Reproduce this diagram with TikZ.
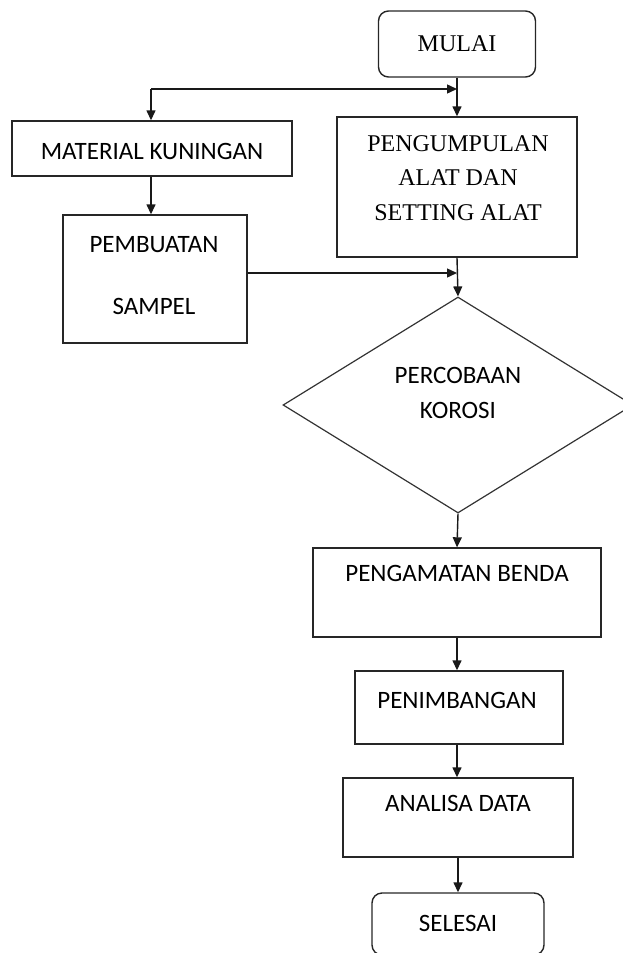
\documentclass[tikz,border=0pt]{standalone}
\usepackage{fontspec}
\setmainfont{Carlito}
\newfontfamily\timesfont{Liberation Serif}
\usetikzlibrary{shapes.geometric,arrows.meta}
\begin{document}
\begin{tikzpicture}[x=1pt, y=-1pt, every node/.append style={font=\fontsize{25}{30}\selectfont}]
    \tikzstyle{box}=[draw=black!85,line width=1.4pt,shape=rectangle,inner sep=0pt];
    \tikzstyle{term}=[box,rounded corners=10pt];
    \tikzstyle{txt}=[inner sep=0pt,align=center];
    \tikzstyle{serif}=[txt,font=\timesfont\fontsize{24}{34.5}\selectfont];
    \tikzstyle{arr}=[draw=black!90,line width=1.4pt,-{Triangle[length=10pt,width=9pt]}];
    \useasboundingbox (0,0) rectangle (622,953);
    %start
    \node[term,minimum width=157pt,minimum height=66pt] (mulai) at (457,44) {};
    \node[serif] (mulaitxt) at (457,44) {MULAI};
    %left branch
    \node[box,minimum width=280pt,minimum height=55pt] (material) at (152,148.5) {};
    \node[txt] (materialtxt) at (152,151) {MATERIAL KUNINGAN};
    \node[box,minimum width=184pt,minimum height=128pt] (pembuatan) at (155,279) {};
    \node[txt,font=\fontsize{25}{62}\selectfont] (pembuatantxt) at (154,276) {PEMBUATAN\\SAMPEL};
    %right branch
    \node[box,minimum width=240pt,minimum height=140pt] (pengumpulan) at (457,187) {};
    \node[serif] (pengumpulantxt) at (458,178) {PENGUMPULAN\\ALAT DAN\\SETTING ALAT};
    %test
    \node[draw=black!80,line width=1.2pt,shape=diamond,inner sep=0pt,minimum width=350pt,minimum height=216pt] (percobaan) at (458,405) {};
    \node[txt,font=\fontsize{25}{35}\selectfont] (percobaantxt) at (458,392.5) {PERCOBAAN\\KOROSI};
    %main column
    \node[box,minimum width=288pt,minimum height=89pt] (pengamatan) at (457,592.5) {};
    \node[txt] (pengamatantxt) at (457,573) {PENGAMATAN BENDA};
    \node[box,minimum width=208pt,minimum height=73pt] (penimbangan) at (459,707.5) {};
    \node[txt] (penimbangantxt) at (457,700) {PENIMBANGAN};
    \node[box,minimum width=230pt,minimum height=79pt] (analisa) at (458,817.5) {};
    \node[txt] (analisatxt) at (458,803) {ANALISA DATA};
    \node[term,minimum width=172pt,minimum height=62pt] (selesai) at (458,924) {};
    \node[txt] (selesaitxt) at (458,923) {SELESAI};
    %connectors
    \coordinate (split) at (457,89);
    \coordinate (corner) at (151,89);
    \coordinate (join) at (457,273);
    \draw[arr] (mulai.south) -- (pengumpulan.north);
    \draw[arr] (corner) -- (split);
    \draw[arr] (corner) -- (material.north -| corner);
    \draw[arr] (material.south -| corner) -- (pembuatan.north -| corner);
    \draw[arr] (pembuatan.east |- join) -- (join);
    \draw[arr] (pengumpulan.south) -- (percobaan.north);
    \draw[arr] (percobaan.south) -- (pengamatan.north);
    \draw[arr] (pengamatan.south) -- (penimbangan.north -| pengamatan.south);
    \draw[arr] (penimbangan.south -| pengamatan.south) -- (analisa.north -| pengamatan.south);
    \draw[arr] (analisa.south) -- (selesai.north);
\end{tikzpicture}
\end{document}
